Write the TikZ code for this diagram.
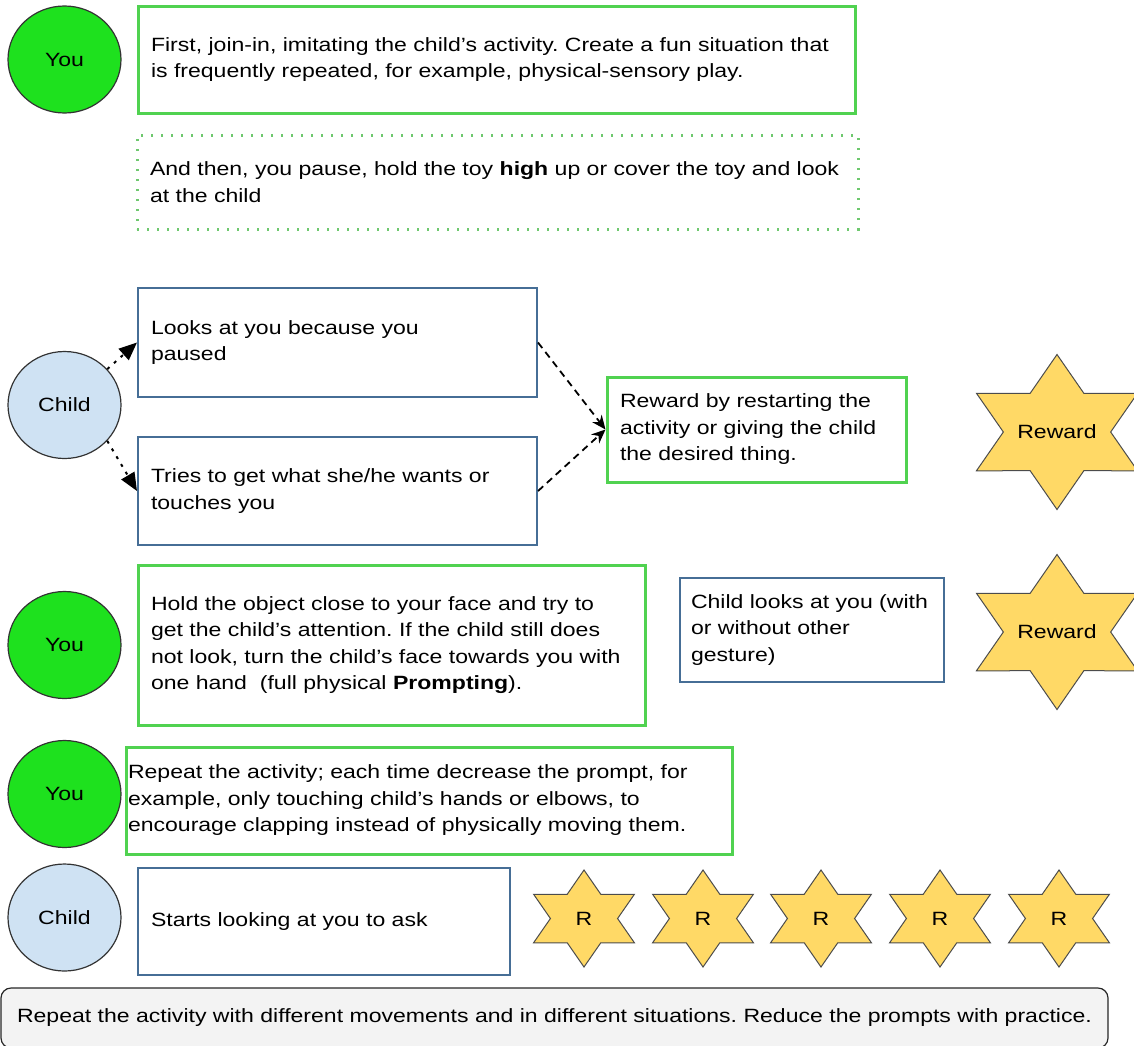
\documentclass[tikz,border=0pt]{standalone}
\usepackage{fontspec}
\setmainfont{Liberation Sans}[FakeStretch=1.2]
\usepackage{tikz}
\usetikzlibrary{shapes.geometric,arrows.meta}
\definecolor{yougreen}{RGB}{30,225,30}
\definecolor{childblue}{RGB}{207,226,243}
\definecolor{boxgreen}{RGB}{80,210,80}
\definecolor{dotgreen}{RGB}{110,200,110}
\definecolor{boxblue}{RGB}{70,110,150}
\definecolor{staryellow}{RGB}{255,217,102}
\definecolor{notegray}{RGB}{243,243,243}
\newcommand{\bodyfont}{\fontsize{9.6}{13.25}\selectfont}
\newcommand{\Star}[5]{%
	\begin{scope}[shift={(#2,#3)},xscale=1.2]
		\draw[starshape] (90:#4) \foreach \a in {0,60,...,300}{ -- ({\a+120}:{0.577*#4}) -- ({\a+150}:#4)} -- cycle;
	\end{scope}
	\node[startext] (#1) at (#2,#3) {#5};}
\frenchspacing

\begin{document}
\begin{tikzpicture}[x=0.5pt,y=-0.5pt,
		every node/.style={font=\bodyfont},
		you/.style={ellipse,draw=black!80,line width=0.6pt,fill=yougreen,minimum width=56.5pt,minimum height=53.5pt,inner sep=0pt},
		child/.style={you,fill=childblue},
		greenbox/.style={draw=boxgreen,line width=1.5pt,fill=white,inner xsep=6.5pt,align=left},
		dotbox/.style={greenbox,draw=dotgreen,dash pattern=on 1pt off 4pt},
		bluebox/.style={greenbox,draw=boxblue,line width=1pt},
		starshape/.style={draw=black!70,line width=0.5pt,fill=staryellow,line join=miter},
		startext/.style={inner sep=0pt},
		dotarrow/.style={line width=1pt,dash pattern=on 1.5pt off 3pt,-{Triangle[length=9pt,width=7.5pt]}},
		dasharrow/.style={line width=0.9pt,dash pattern=on 3.5pt off 2.5pt,-{Stealth[length=7pt,width=6pt]}}]
	\useasboundingbox (0,0) rectangle (1134,1045);

	\node[you] (you1) at (64.5,59.5) {You};
	\node[greenbox,text width=345.5pt,minimum height=53.5pt] (join) at (496.5,59.5)
		{First, join-in, imitating the child's activity. Create a fun situation that\\is frequently repeated, for example, physical-sensory play.};
	\node[dotbox,text width=347.5pt,minimum height=47pt] (pause) at (497.5,182)
		{And then, you pause, hold the toy \textbf{high} up or cover the toy and look\\at the child};

	\node[child] (child1) at (64.5,405) {Child};
	\node[bluebox,text width=186.5pt,minimum height=54.5pt] (looks) at (337.5,342.5)
		{Looks at you because you\\paused};
	\node[bluebox,text width=186.5pt,minimum height=54pt] (tries) at (337.5,491)
		{Tries to get what she/he wants or\\touches you};
	\node[greenbox,text width=136.5pt,minimum height=52.5pt] (restart) at (756.5,429.5)
		{Reward by restarting the\\activity or giving the child\\the desired thing.};
	\Star{reward1}{1057}{432}{77.5}{Reward}
	\draw[dotarrow] (child1.40) -- (looks.west);
	\draw[dotarrow] (child1.-40) -- (tries.west);
	\draw[dasharrow] (looks.east) -- (restart.west);
	\draw[dasharrow] (tries.east) -- (restart.west);

	\node[you] (you2) at (64.5,645) {You};
	\node[greenbox,text width=240.5pt,minimum height=80pt] (hold) at (391.5,645)
		{Hold the object close to your face and try to\\get the child's attention. If the child still does\\not look, turn the child's face towards you with\\one hand\ \ (full physical \textbf{Prompting}).};
	\node[bluebox,inner xsep=5.5pt,text width=121pt,minimum height=52pt] (looksback) at (812,630)
		{Child looks at you (with\\or without other\\gesture)};
	\Star{reward2}{1057}{632}{77.5}{Reward}

	\node[you] (you3) at (64.5,794) {You};
	\node[greenbox,inner xsep=1pt,text width=301pt,minimum height=53.5pt] (fade) at (429,800.5)
		{Repeat the activity; each time decrease the prompt, for\\example, only touching child's hands or elbows, to\\encourage clapping instead of physically moving them.};

	\node[child] (child2) at (64.5,917.5) {Child};
	\node[bluebox,text width=173pt,minimum height=53.5pt] (starts) at (324,921.5)
		{Starts looking at you to ask};
	\foreach \i/\x in {1/584,2/703,3/821,4/940,5/1059}{
		\Star{r\i}{\x}{918.5}{48.5}{R}
	}

	\node[draw=black!85,line width=0.6pt,fill=notegray,rounded corners=5pt,minimum width=553.5pt,minimum height=30pt] (note) at (554.5,1018)
		{Repeat the activity with different movements and in different situations. Reduce the prompts with practice.};
\end{tikzpicture}
\end{document}
